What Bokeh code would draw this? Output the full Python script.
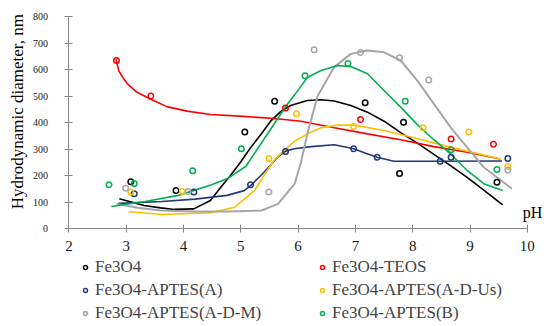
import math
from bokeh.plotting import figure
from bokeh.models import Legend, LegendItem, FixedTicker, Label, Range1d
from bokeh.embed import file_html
from bokeh.resources import INLINE

# ---- scatter data (pH, hydrodynamic diameter nm) ----
ph_fe3o4 = [3.08, 3.87, 5.07, 5.59, 7.17, 7.77, 7.84, 9.47]
d_fe3o4 = [176, 143, 364, 480, 475, 208, 401, 175]

ph_teos = [2.83, 3.43, 5.78, 7.09, 8.67, 9.41]
d_teos = [634, 500, 455, 411, 338, 318]

ph_a = [3.14, 4.18, 5.17, 5.78, 6.97, 7.38, 8.48, 8.67, 9.66]
d_a = [131, 138, 165, 291, 301, 269, 254, 269, 264]

ph_adus = [3.08, 3.98, 5.49, 5.97, 6.97, 8.18, 8.98, 9.66]
d_adus = [138, 140, 264, 433, 385, 380, 364, 234]

ph_adm = [2.99, 4.08, 5.49, 6.28, 7.09, 7.77, 8.28, 9.66]
d_adm = [152, 140, 138, 675, 664, 644, 560, 221]

ph_b = [2.70, 3.14, 4.16, 5.01, 6.12, 6.87, 7.87, 8.67, 9.47]
d_b = [165, 170, 218, 301, 576, 623, 480, 297, 223]

# ---- trend curves ----
c_ph_fe3o4 = [2.88, 3.31, 3.60, 3.84, 4.18, 4.47, 4.65, 4.82, 5.00, 5.17, 5.35, 5.52, 5.70, 5.87, 6.16, 6.40, 6.63, 6.92, 7.21, 7.50, 7.79, 8.08, 8.37, 8.66, 8.95, 9.24, 9.57]
c_d_fe3o4 = [112, 87, 78, 72, 74, 106, 156, 200, 252, 305, 355, 405, 442, 464, 483, 486, 481, 464, 439, 405, 362, 322, 280, 237, 193, 145, 89]

c_ph_teos = [2.82, 2.87, 2.95, 3.02, 3.19, 3.42, 3.71, 4.06, 4.47, 5.05, 5.63, 6.05, 6.63, 7.21, 7.79, 8.37, 8.95, 9.53]
c_d_teos = [640, 595, 567, 546, 514, 489, 460, 443, 430, 423, 414, 405, 380, 357, 335, 309, 288, 262]

c_ph_a = [2.86, 3.62, 4.20, 4.76, 5.06, 5.17, 5.35, 5.50, 5.64, 5.77, 5.93, 6.23, 6.63, 6.97, 7.18, 7.38, 7.67, 8.37, 9.56]
c_d_a = [95, 102, 111, 125, 143, 162, 200, 235, 268, 291, 301, 309, 316, 301, 284, 269, 254, 254, 255]

c_ph_adus = [3.04, 3.62, 4.49, 4.89, 5.24, 5.46, 5.59, 5.75, 5.94, 6.23, 6.40, 6.70, 6.97, 7.50, 7.97, 8.66, 9.53]
c_d_adus = [64, 53, 60, 80, 143, 219, 260, 294, 330, 364, 380, 390, 390, 370, 345, 307, 262]

c_ph_adm = [2.83, 3.20, 3.60, 4.20, 4.80, 5.36, 5.65, 5.94, 6.05, 6.17, 6.34, 6.63, 6.92, 7.21, 7.50, 7.79, 8.08, 8.37, 8.66, 9.24, 9.73]
c_d_adm = [93, 78, 68, 64, 64, 68, 93, 169, 250, 365, 500, 609, 659, 672, 665, 634, 558, 470, 382, 231, 150]

c_ph_b = [2.74, 3.33, 3.91, 4.49, 4.78, 5.09, 5.49, 5.80, 6.01, 6.16, 6.40, 6.69, 6.92, 7.21, 7.50, 7.79, 8.08, 8.37, 8.66, 8.95, 9.24, 9.57]
c_d_b = [83, 102, 125, 165, 190, 235, 365, 465, 525, 570, 596, 615, 611, 584, 521, 458, 392, 335, 282, 219, 169, 143]

names = ["Fe3O4", "Fe3O4-TEOS", "Fe3O4-APTES(A)", "Fe3O4-APTES(A-D-Us)", "Fe3O4-APTES(A-D-M)", "Fe3O4-APTES(B)"]
colors = ["#000000", "#ff0000", "#1f3a7a", "#ffc000", "#a6a6a6", "#00b050"]
x_ticks = [2, 3, 4, 5, 6, 7, 8, 9, 10]
y_ticks = [0, 100, 200, 300, 400, 500, 600, 700, 800]

FONT = "Liberation Serif"

# frame spans the whole canvas; the axes sit at pH = 2 and diameter = 0
p = figure(width=544, height=326, output_backend="svg", toolbar_location=None,
           x_range=Range1d(0.806, 10.30), y_range=Range1d(-369.8, 860.4),
           min_border_left=0, min_border_right=0, min_border_top=0, min_border_bottom=0)
p.grid.visible = False
p.outline_line_color = None
p.background_fill_color = "white"

for ax in (p.xaxis[0], p.yaxis[0]):
    ax.axis_line_color = "#868686"
    ax.major_tick_line_color = "#868686"
    ax.minor_tick_line_color = None
    ax.major_tick_in = 4
    ax.major_tick_out = 4
    ax.major_label_text_font = FONT
    ax.major_label_text_color = "#1a1a1a"

p.xaxis.fixed_location = 0
p.yaxis.fixed_location = 2
p.xaxis.bounds = (2, 10)
p.yaxis.bounds = (0, 800)
p.xaxis.ticker = FixedTicker(ticks=x_ticks)
p.yaxis.ticker = FixedTicker(ticks=y_ticks)
p.xaxis.major_label_text_font_size = "15px"
p.yaxis.major_label_text_font_size = "10px"
p.xaxis.major_label_standoff = 8
p.yaxis.major_label_standoff = 17

curves = [(c_ph_fe3o4, c_d_fe3o4), (c_ph_teos, c_d_teos), (c_ph_a, c_d_a),
          (c_ph_adus, c_d_adus), (c_ph_adm, c_d_adm), (c_ph_b, c_d_b)]
points = [(ph_fe3o4, d_fe3o4), (ph_teos, d_teos), (ph_a, d_a),
          (ph_adus, d_adus), (ph_adm, d_adm), (ph_b, d_b)]

for (cx, cy), col in zip(curves, colors):
    p.line(cx, cy, line_color=col, line_width=2.0 if col == "#a6a6a6" else 1.6)

items = []
for (px, py), col, nm in zip(points, colors, names):
    r = p.scatter(px, py, marker="circle", size=5.5, fill_color=None, line_color=col, line_width=1.5)
    items.append(LegendItem(label=nm, renderers=[r]))

# legend fills column by column: reorder so rows read pairwise as in the source
order = [0, 2, 4, 1, 3, 5]
legend = Legend(items=[items[i] for i in order], ncols=2, location=(80, 3),
                glyph_width=10, glyph_height=20, label_height=20, label_standoff=5,
                spacing=3, padding=0, margin=0, border_line_color=None,
                background_fill_alpha=0, label_text_font=FONT,
                label_text_font_size="17px", label_width=219)
p.add_layout(legend, "center")

p.add_layout(Label(x=1.102, y=441, text="Hydrodynamic diameter, nm", angle=math.pi / 2,
                   text_align="center", text_baseline="middle",
                   text_font=FONT, text_font_size="17px", text_color="#000000"))
p.add_layout(Label(x=10.09, y=60, text="pH", text_align="center", text_baseline="alphabetic",
                   text_font=FONT, text_font_size="16px", text_color="#000000"))

open("out.html", "w").write(file_html(p, INLINE))
